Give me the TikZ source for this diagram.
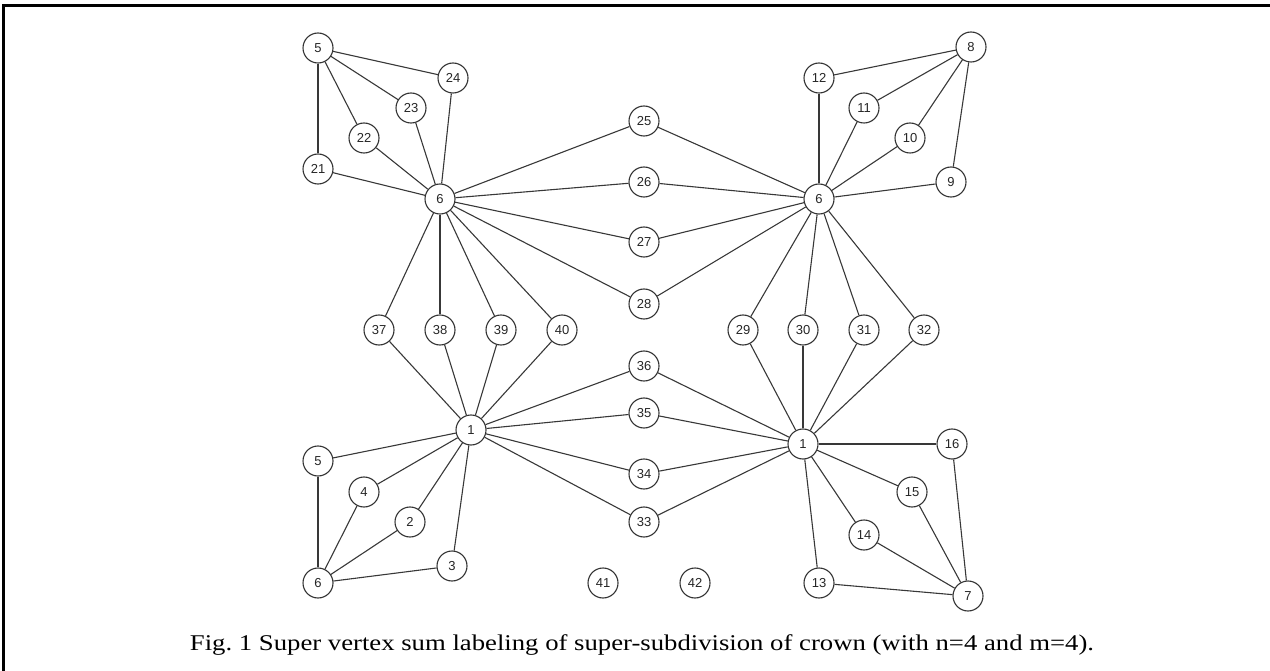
\documentclass[tikz,border=0pt]{standalone}
\usepackage{fontspec}
\setmainfont{Liberation Serif}
\setsansfont{Liberation Sans}
\begin{document}
\begin{tikzpicture}[x=1pt,y=-1pt,
  vtx/.style={circle,draw=black!80,line width=1.1pt,fill=white,minimum size=30pt,inner sep=0pt,font=\sffamily\fontsize{13}{13}\selectfont,text=black!85},
  edge/.style={draw=black!78,line width=1.1pt},
  frame/.style={draw=black,line width=2.2pt}]
\useasboundingbox (0,0) rectangle (1270,671);
\draw[frame] (1270,5.5) -- (3.5,5.5) -- (3.5,671);
% top-left cluster
\node[vtx] (a5) at (318,48) {5};
\node[vtx] (a24) at (453,78) {24};
\node[vtx] (a23) at (411,108) {23};
\node[vtx] (a22) at (364,138) {22};
\node[vtx] (a21) at (318,169) {21};
\node[vtx] (a6) at (440,199) {6};
% top-right cluster
\node[vtx] (b8) at (971,47) {8};
\node[vtx] (b12) at (819,78) {12};
\node[vtx] (b11) at (864,108) {11};
\node[vtx] (b10) at (910,138) {10};
\node[vtx] (b9) at (951,182) {9};
\node[vtx] (b6) at (819,199) {6};
% middle
\node[vtx] (m25) at (644,121) {25};
\node[vtx] (m26) at (644,182) {26};
\node[vtx] (m27) at (644,242) {27};
\node[vtx] (m28) at (644,304) {28};
\node[vtx] (m36) at (644,366) {36};
\node[vtx] (m35) at (644,413) {35};
\node[vtx] (m34) at (644,474) {34};
\node[vtx] (m33) at (644,522) {33};
% row
\node[vtx] (r37) at (379,330) {37};
\node[vtx] (r38) at (440,330) {38};
\node[vtx] (r39) at (501,330) {39};
\node[vtx] (r40) at (562,330) {40};
\node[vtx] (r29) at (743,330) {29};
\node[vtx] (r30) at (803,330) {30};
\node[vtx] (r31) at (864,330) {31};
\node[vtx] (r32) at (924,330) {32};
% bottom-left cluster
\node[vtx] (c1) at (471,430) {1};
\node[vtx] (c5) at (318,461) {5};
\node[vtx] (c4) at (364,492) {4};
\node[vtx] (c2) at (410,522) {2};
\node[vtx] (c3) at (452,566) {3};
\node[vtx] (c6) at (318,583) {6};
% bottom-right cluster
\node[vtx] (d1) at (803,444) {1};
\node[vtx] (d16) at (952,444) {16};
\node[vtx] (d15) at (912,492) {15};
\node[vtx] (d14) at (864,535) {14};
\node[vtx] (d13) at (819,583) {13};
\node[vtx] (d7) at (968,596) {7};
% isolated
\node[vtx] (i41) at (603,583) {41};
\node[vtx] (i42) at (695,583) {42};
% edges
\foreach \u/\v in {a5/a24,a5/a23,a5/a22,a5/a21,a6/a24,a6/a23,a6/a22,a6/a21,
  a6/m25,a6/m26,a6/m27,a6/m28,a6/r37,a6/r38,a6/r39,a6/r40,
  b6/m25,b6/m26,b6/m27,b6/m28,b6/b12,b6/b11,b6/b10,b6/b9,b6/r29,b6/r30,b6/r31,b6/r32,
  b8/b12,b8/b11,b8/b10,b8/b9,
  c1/r37,c1/r38,c1/r39,c1/r40,c1/m36,c1/m35,c1/m34,c1/m33,c1/c5,c1/c4,c1/c2,c1/c3,
  c6/c5,c6/c4,c6/c2,c6/c3,
  d1/r29,d1/r30,d1/r31,d1/r32,d1/m36,d1/m35,d1/m34,d1/m33,d1/d16,d1/d15,d1/d14,d1/d13,
  d7/d16,d7/d15,d7/d14,d7/d13}
  \draw[edge] (\u) -- (\v);
\node[font=\fontsize{22.5}{24}\selectfont,anchor=base,xscale=1.187,transform shape] (cap) at (642,650) {Fig.~1 Super vertex sum labeling of super-subdivision of crown (with n=4 and m=4).};
\end{tikzpicture}
\end{document}
